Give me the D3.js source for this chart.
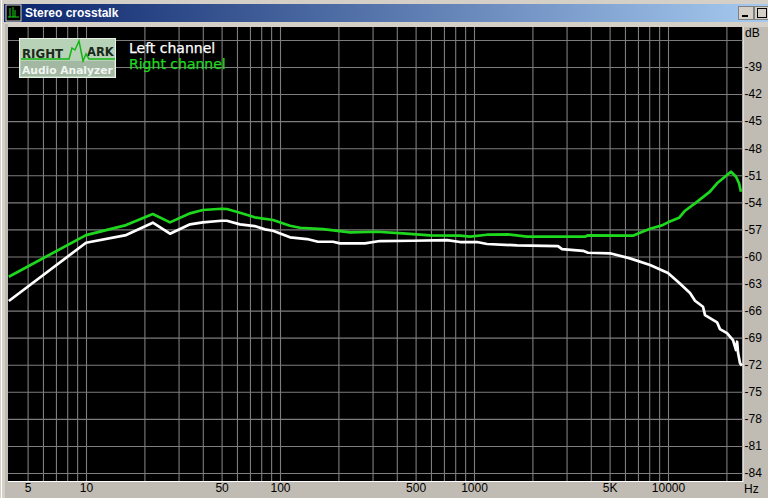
<!DOCTYPE html>
<html><head><meta charset="utf-8">
<script src="https://cdn.jsdelivr.net/npm/d3@7"></script>
<style>html,body{margin:0;padding:0;background:#c0bbb3}svg{display:block}</style>
</head><body><svg id="c" width="768" height="498"></svg>
<script>
const chartTitle = "Stereo crosstalk";
const seriesNames = ["Left channel", "Right channel"];
const gridHz = [5,6,7,8,9,10,20,30,40,50,60,70,80,90,100,200,300,400,500,600,700,800,900,1000,2000,3000,4000,5000,6000,7000,8000,9000,10000,20000];
const xTickValues = [5,10,50,100,500,1000,5000,10000];
const xTickLabels = ["5","10","50","100","500","1000","5K","10000"];
const dbTicks = [-36,-39,-42,-45,-48,-51,-54,-57,-60,-63,-66,-69,-72,-75,-78,-81,-84];
const greenHz = [4,10,16.1,22.1,27.1,34.4,40,50,53.2,62.2,74,92,112.6,126.8,166.6,230,316,430,593,847,953,1167,1497,1876,3734,3870,6368,6600,7170,8080,9310,10000,11400,12240,13780,16450,17900,20140,21120,22420,23230,23770];
const greenDb = [-62.25,-57.63,-56.52,-55.3,-56.22,-55.22,-54.85,-54.71,-54.74,-55.15,-55.66,-55.96,-56.59,-56.82,-56.96,-57.33,-57.26,-57.44,-57.66,-57.7,-57.81,-57.59,-57.55,-57.81,-57.81,-57.66,-57.68,-57.7,-57.37,-56.93,-56.55,-56.22,-55.71,-54.93,-54.11,-52.82,-51.89,-50.97,-50.61,-51.16,-51.89,-52.82];
const whiteHz = [4,10,16.1,22.1,27.1,34.4,40,50,53.2,62.2,74,83.7,92,112.6,137.8,157,187.6,203.9,274,327,485,726,847,1036,1167,1666,2710,2843,3648,3870,5020,6368,8080,10000,11400,12990,13780,15150,15520,17900,18530,20140,21630,22420,22710,22980,23500,24060];
const whiteDb = [-64.94,-58.48,-57.63,-56.26,-57.48,-56.44,-56.22,-56.04,-56.04,-56.44,-56.63,-57,-57.15,-57.88,-58.07,-58.37,-58.37,-58.55,-58.55,-58.29,-58.26,-58.18,-58.4,-58.4,-58.62,-58.77,-58.85,-59.18,-59.37,-59.59,-59.65,-60.21,-60.95,-61.84,-62.91,-64.06,-64.91,-65.57,-66.5,-67.3,-68.05,-68.49,-69.27,-70.37,-69.45,-70.71,-71.82,-72.12];

const svg = d3.select("#c");
const defs = svg.append("defs");
const g0 = defs.append("linearGradient").attr("id","tb");
g0.append("stop").attr("offset","0").attr("stop-color","#0a246a");
g0.append("stop").attr("offset","1").attr("stop-color","#a6caf0");

const L=8,R=742.5,T=27,B=481;
const x = d3.scaleLog().domain([10,10000]).range([86,668]);
const y = d3.scaleLinear().domain([-39,-84]).range([67,473]);

// window chrome
svg.append("rect").attr("width",768).attr("height",498).attr("fill","#c0bbb3");
svg.append("rect").attr("width",768).attr("height",27).attr("fill","#d4d0c8");
svg.append("rect").attr("width",8).attr("height",498).attr("fill","#d4d0c8");
svg.append("rect").attr("x",1).attr("width",1).attr("height",498).attr("fill","#ffffff");
svg.append("rect").attr("x",5).attr("y",24).attr("width",3).attr("height",474).attr("fill","#c0bbb3");
svg.append("rect").attr("x",4).attr("y",4).attr("width",764).attr("height",18).attr("fill","url(#tb)");
svg.append("rect").attr("x",6).attr("y",5).attr("width",15).attr("height",16).attr("fill","#000").attr("stroke","#d4d0c8");
svg.append("path").attr("d","M8 17H19M10 8V17M13 7V17M15 10V17").attr("stroke","#19d419").attr("fill","none");
svg.append("text").attr("x",25).attr("y",17).attr("fill","#fff").attr("font-family","Liberation Sans").attr("font-weight","bold").attr("font-size",12).text(chartTitle);
// buttons
[[738,16],[754,16]].forEach(([bx,bw])=>{
  svg.append("rect").attr("x",bx+.5).attr("y",6.5).attr("width",bw-1).attr("height",13).attr("fill","#d4d0c8").attr("stroke","#808080");
});
svg.append("rect").attr("x",742).attr("y",15).attr("width",6).attr("height",2).attr("fill","#000");
svg.append("rect").attr("x",757.5).attr("y",8.5).attr("width",9).attr("height",9).attr("fill","none").attr("stroke","#000");

// plot
svg.append("rect").attr("x",L).attr("y",T).attr("width",R-L).attr("height",B-T).attr("fill","#000");
svg.append("line").attr("x1",L).attr("x2",R+.5).attr("y1",B+.5).attr("y2",B+.5).attr("stroke","#fff");
svg.append("line").attr("x1",R+.5).attr("x2",R+.5).attr("y1",T).attr("y2",B+1).attr("stroke","#fff");

const font = "Liberation Sans";
const gx = svg.append("g").attr("transform",`translate(0,${B})`)
  .call(d3.axisBottom(x).tickValues(gridHz).tickSize(-(B-T)).tickFormat(""));
gx.select(".domain").remove();
gx.selectAll("line").attr("stroke","#7d7d7d").attr("stroke-width",1.1);

const gl = svg.append("g").attr("transform",`translate(0,${B})`)
  .call(d3.axisBottom(x).tickValues(xTickValues).tickSize(0).tickPadding(2).tickFormat((d,i)=>xTickLabels[i]));
gl.select(".domain").remove();
gl.selectAll("text").attr("fill","#000").attr("font-family",font).attr("font-size",12);

const gy = svg.append("g").attr("transform",`translate(${R},0)`)
  .call(d3.axisRight(y).tickValues(dbTicks).tickSize(-(R-L)).tickPadding(2).tickFormat(d=>d===-36?"":String(d)));
gy.select(".domain").remove();
gy.selectAll("line").attr("stroke","#7d7d7d").attr("stroke-width",1.1);
gy.selectAll("text").attr("fill","#000").attr("font-family",font).attr("font-size",12);
svg.append("text").attr("x",745).attr("y",37).attr("font-family",font).attr("font-size",12).text("dB");
svg.append("text").attr("x",744).attr("y",493).attr("font-family",font).attr("font-size",12).text("Hz");

// curves
const line = d3.line().x(d=>x(d[0])).y(d=>y(d[1]));
svg.append("path").attr("d",line(d3.zip(whiteHz,whiteDb))).attr("fill","none").attr("stroke","#ffffff").attr("stroke-width",2.7).attr("stroke-linejoin","round");
svg.append("path").attr("d",line(d3.zip(greenHz,greenDb))).attr("fill","none").attr("stroke","#1ed81e").attr("stroke-width",2.7).attr("stroke-linejoin","round");

// logo
const lg = svg.append("g");
lg.append("rect").attr("x",19.5).attr("y",38.5).attr("width",96).attr("height",39).attr("fill","#b8d2b8").attr("stroke","#e8f0e8");
lg.append("rect").attr("x",21).attr("y",61).attr("width",93).attr("height",15).attr("fill","#a3b8a3");
lg.append("text").attr("x",22).attr("y",58).attr("font-family","DejaVu Sans").attr("font-weight","bold").attr("font-size",11.8).attr("fill","#1a2a1a").text("RIGHT");
lg.append("text").attr("x",87).attr("y",56).attr("font-family","DejaVu Sans").attr("font-weight","bold").attr("font-size",11.5).attr("fill","#1a2a1a").text("ARK");
lg.append("path").attr("d","M21 59H69L72 48L75 50L79 41L83 61L86 54L89 59H115").attr("fill","none").attr("stroke","#14b414").attr("stroke-width",1.5);
lg.append("text").attr("x",22).attr("y",74).attr("font-family","DejaVu Sans").attr("font-weight","bold").attr("font-size",10.7).attr("fill","#f0f4f0").text("Audio Analyzer");

// legend
svg.append("text").attr("x",129).attr("y",53).attr("font-family","DejaVu Sans").attr("font-size",14).attr("fill","#fff").attr("stroke","#fff").attr("stroke-width",.25).text(seriesNames[0]);
svg.append("text").attr("x",129).attr("y",69).attr("font-family","DejaVu Sans").attr("font-size",14).attr("fill","#1ed81e").attr("stroke","#1ed81e").attr("stroke-width",.25).text(seriesNames[1]);
</script></body></html>
